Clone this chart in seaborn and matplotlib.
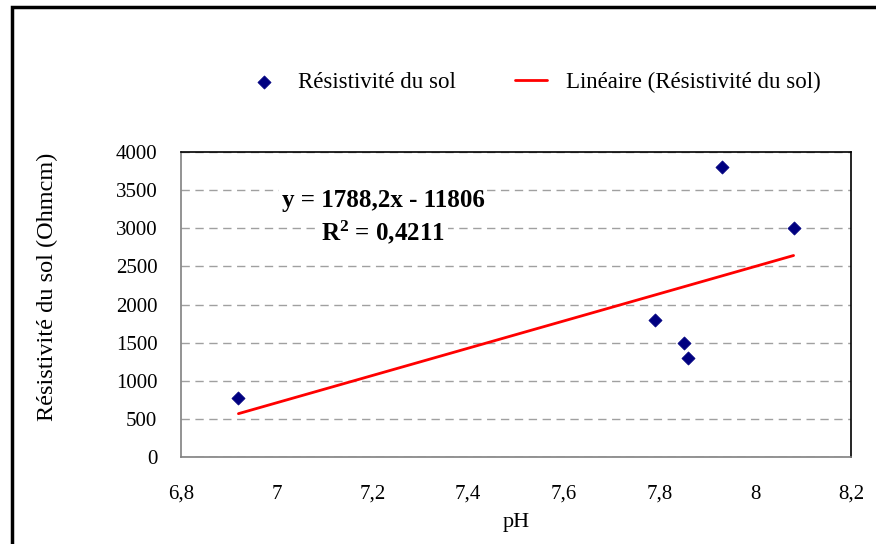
import numpy as np
import pandas as pd
import matplotlib
matplotlib.use('Agg')
import matplotlib.pyplot as plt
import seaborn as sns
from matplotlib.patches import Rectangle

# données
ph = [6.92, 7.79, 7.85, 7.86, 7.93, 8.08]
resistivite = [780, 1800, 1500, 1300, 3800, 3000]
pente = 1788.2
ordonnee = -11806
r2 = 0.4211

x_ticks = [6.8, 7.0, 7.2, 7.4, 7.6, 7.8, 8.0, 8.2]
x_labels = ['6,8', '7', '7,2', '7,4', '7,6', '7,8', '8', '8,2']
y_ticks = [0, 500, 1000, 1500, 2000, 2500, 3000, 3500, 4000]

df = pd.DataFrame({'pH': ph, 'res': resistivite})
x_lin = np.array([min(ph), max(ph)])
df_lin = pd.DataFrame({'pH': x_lin, 'res': pente * x_lin + ordonnee})

sns.set_style('white')
plt.rcParams['font.family'] = ['Liberation Serif', 'DejaVu Serif']
plt.rcParams['text.color'] = 'black'
plt.rcParams['axes.labelcolor'] = 'black'
plt.rcParams['xtick.labelcolor'] = 'black'
plt.rcParams['ytick.labelcolor'] = 'black'
plt.rcParams['mathtext.fontset'] = 'custom'
plt.rcParams['mathtext.rm'] = 'Liberation Serif'
plt.rcParams['mathtext.bf'] = 'Liberation Serif:bold'

fig = plt.figure(figsize=(8.76, 5.44), dpi=100)
ax = fig.add_axes([181 / 876, 87 / 544, 670 / 876, 305 / 544])

sns.scatterplot(data=df, x='pH', y='res', ax=ax, marker='D', s=45,
                color='#000080', edgecolor='#000080', linewidth=0.5,
                label='Résistivité du sol', zorder=3)
sns.lineplot(data=df_lin, x='pH', y='res', ax=ax, color='#ff0000', lw=2,
             label='Linéaire (Résistivité du sol)', zorder=2)

ax.set_xlim(6.8, 8.2)
ax.set_ylim(0, 4000)
ax.set_xticks(x_ticks)
ax.set_xticklabels(x_labels)
ax.set_yticks(y_ticks)
ax.tick_params(axis='both', labelsize=15, direction='out', length=5,
               width=1, color='#808080')
ax.tick_params(axis='y', pad=12)
ax.tick_params(axis='x', pad=15)

ax.yaxis.grid(True, linestyle=(0, (6, 4)), color='#a0a0a0', lw=1)
ax.xaxis.grid(False)
ax.set_axisbelow(True)

for s in ['left', 'bottom']:
    ax.spines[s].set_color('#808080')
    ax.spines[s].set_linewidth(1.2)
for s in ['top', 'right']:
    ax.spines[s].set_color('black')
    ax.spines[s].set_linewidth(1.2)

ax.set_xlabel('pH', fontsize=16)
ax.xaxis.set_label_coords(0.5, -(532 - 457) / 305)
ax.xaxis.label.set_va('bottom')
ax.set_ylabel('Résistivité du sol (Ohmcm)', fontsize=17.5)
ax.yaxis.set_label_coords((58 - 181) / 670, (457 - 287) / 305)

ax.text(383 / 876, 1 - 200 / 544,
        f'y = {pente:.1f}x - {abs(ordonnee)}'.replace('.', ','),
        transform=fig.transFigure, ha='center', va='center',
        fontsize=18, fontweight='bold',
        bbox=dict(facecolor='white', edgecolor='none', pad=2))
ax.text(383 / 876, 1 - 232 / 544,
        r'$\mathbf{R^2}$' + f' = {r2}'.replace('.', ','),
        transform=fig.transFigure, ha='center', va='center',
        fontsize=18, fontweight='bold',
        bbox=dict(facecolor='white', edgecolor='none', pad=2))

ax.legend_.remove()
handles, labels = ax.get_legend_handles_labels()
fig.legend(handles, labels, loc='center', bbox_to_anchor=(534 / 876, 1 - 82 / 544),
           ncol=2, frameon=False, fontsize=16.5, handlelength=1.4,
           handletextpad=0.8, columnspacing=2.6)

# cadre extérieur
fig.patches.append(Rectangle((12 / 876, -0.1), 1.2, 1 - 7 / 544 + 0.1,
                             transform=fig.transFigure, fill=False,
                             edgecolor='black', lw=2.5, clip_on=False))

fig.savefig('out.png', dpi=100)
